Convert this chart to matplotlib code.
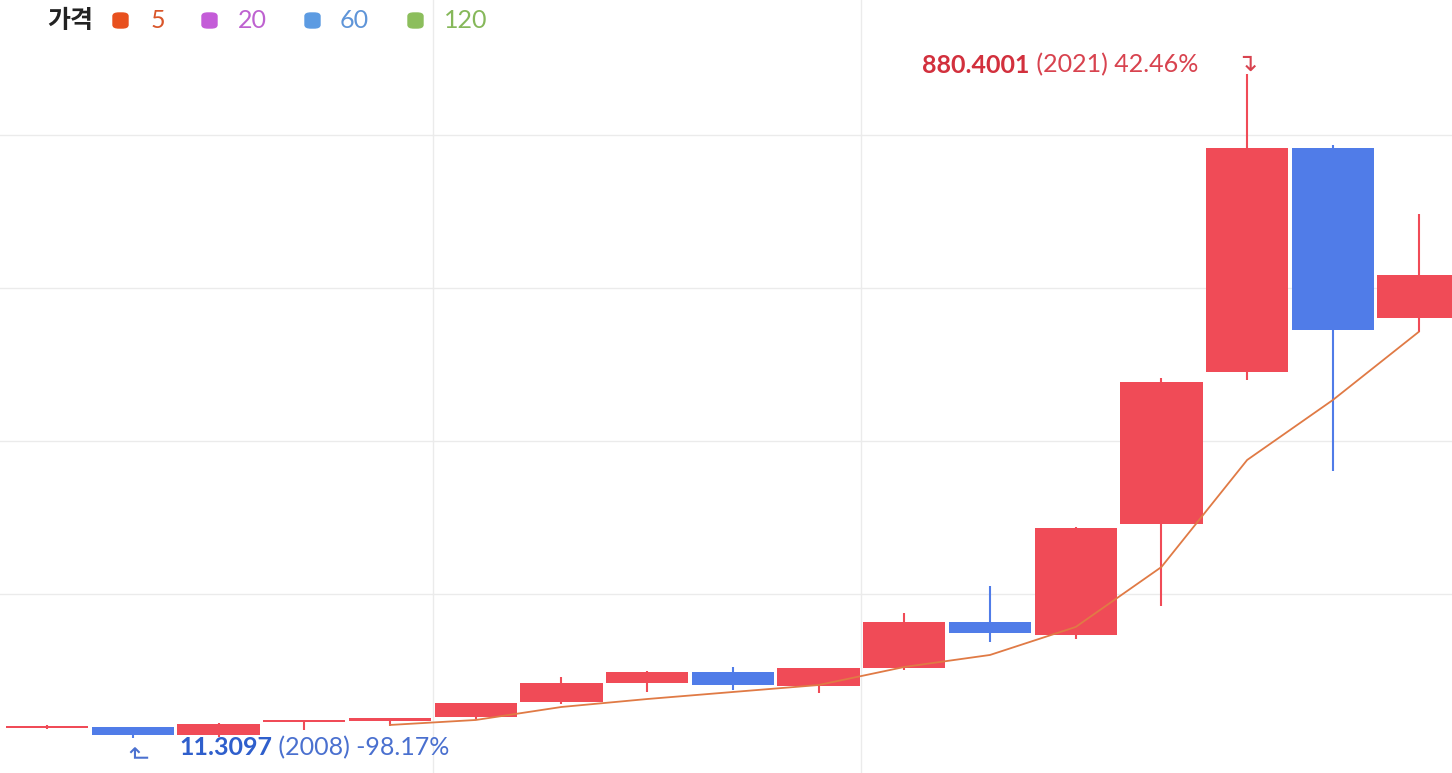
import matplotlib
matplotlib.use("Agg")
import matplotlib.pyplot as plt
from matplotlib.patches import FancyBboxPatch
import numpy as np

# yearly OHLC
years = [2007, 2008, 2009, 2010, 2011, 2012, 2013, 2014, 2015,
         2016, 2017, 2018, 2019, 2020, 2021, 2022, 2023]
opens = [24.5, 26.5, 15.7, 32.5, 34.4, 39.6, 58.4, 83.3, 97.6,
         79.7, 102.9, 163.8, 146.4, 291.5, 489.8, 783.4, 560.4]
highs = [29.0, 26.5, 31.0, 34.5, 38.0, 41.0, 91.0, 99.7, 104.0,
         103.7, 175.6, 210.5, 288.0, 482.0, 880.4, 786.5, 696.7]
lows = [24.0, 11.3097, 13.0, 22.0, 27.5, 37.0, 56.0, 71.5, 74.5,
        70.0, 101.0, 137.6, 140.8, 184.7, 479.7, 360.8, 542.9]
closes = [26.5, 15.7, 30.0, 34.5, 37.5, 57.1, 84.0, 97.6, 81.0,
          103.7, 163.8, 148.6, 285.9, 477.5, 783.4, 545.0, 617.0]

# 5-year moving average line
ma_years = [2011, 2012, 2013, 2014, 2015, 2016, 2017, 2018, 2019, 2020, 2021, 2022, 2023]
ma5 = [28.8, 35.3, 52.3, 62.7, 71.9, 81.0, 104.6, 120.3, 156.9, 235.3, 375.2, 453.6, 542.5]

legend_labels = ["5", "20", "60", "120"]
legend_colors = ["#E8501E", "#C45CD8", "#5C9BE2", "#8CBE5C"]
legend_text_colors = ["#D9562A", "#BE62D0", "#5F95D8", "#86B85A"]

UP = "#F04B57"
DOWN = "#507CE8"

fig = plt.figure(figsize=(14.52, 7.73), dpi=100)
ax = fig.add_axes([0, 0, 1, 1])
ax.set_xlim(2006.45, 2023.39)
ax.set_ylim(-34, 976.5)
for s in ax.spines.values():
    s.set_visible(False)
ax.set_xticks([])
ax.set_yticks([])

for yv in [200, 400, 600, 800]:
    ax.axhline(yv, color="#EBEBEB", lw=1, zorder=0)
for xv in [2011.5, 2016.5]:
    ax.axvline(xv, color="#EBEBEB", lw=1, zorder=0)

o = np.array(opens)
c = np.array(closes)
cols = [UP if cc >= oo else DOWN for oo, cc in zip(o, c)]
ax.vlines(years, lows, highs, colors=cols, lw=1.5, zorder=2)
ax.bar(years, np.maximum(np.abs(c - o), 3.0), bottom=np.minimum(o, c),
       width=0.96, color=cols, linewidth=0, zorder=3)

ax.plot(ma_years, ma5, color="#E07A45", lw=1.3, zorder=4)

# max / min annotations: bold number followed by the rest
rest = ax.text(2020.43, 891.5, " (2021) 42.46%", color="#D8434F", fontsize=18,
               family="Lato", ha="right", va="center")
ax.annotate("880.4001", xy=(0, 0.5), xycoords=rest, ha="right", va="center",
            color="#D2303D", fontsize=18, fontweight="bold", family="Lato")
ax.text(2021, 893, "\u21b4", color="#D8434F", fontsize=18,
        family="DejaVu Sans", ha="center", va="center")

low_t = ax.text(2008.54, -1.3, "11.3097", color="#2F5FCC", fontsize=18,
                fontweight="bold", family="Lato", ha="left", va="center")
ax.annotate(" (2008) -98.17%", xy=(1, 0.5), xycoords=low_t, ha="left", va="center",
            color="#4A70CF", fontsize=18, family="Lato")
ax.text(2008.04, -1.3, "\u21b1", color="#4A70CF", fontsize=18, rotation=90,
        family="DejaVu Sans", ha="center", va="center")

# legend row at the top
W, H = 1452, 773
fig.text(47 / W, 1 - 21 / H, "가격", fontsize=18, family="Noto Sans CJK KR",
         fontweight="bold", color="#222222", va="center")
sq_x = [113, 202, 305, 408]
lab_x = [151, 238, 340, 444]
for sx, lx, lab, sc, tc in zip(sq_x, lab_x, legend_labels, legend_colors, legend_text_colors):
    fig.patches.append(FancyBboxPatch((sx / W, 1 - 28 / H), 15 / W, 15 / H,
                                      boxstyle="round,pad=0,rounding_size=0.004",
                                      transform=fig.transFigure, color=sc))
    fig.text(lx / W, 1 - 21 / H, lab, fontsize=18, family="Lato", color=tc, va="center")

fig.savefig("out.png", dpi=100)
